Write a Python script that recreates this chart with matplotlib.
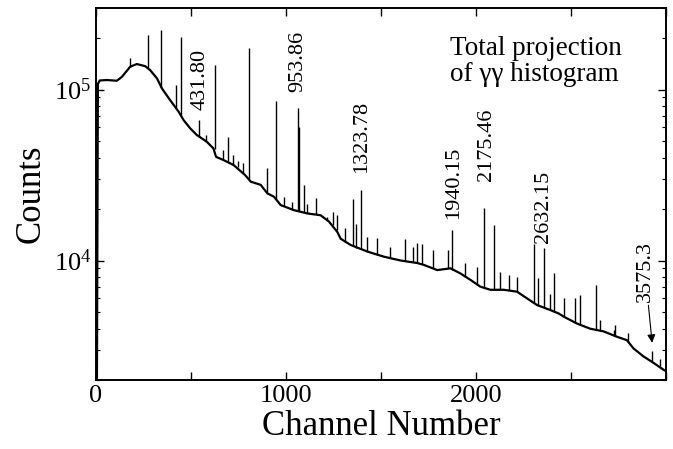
import numpy as np
import matplotlib
matplotlib.use('Agg')
import matplotlib.pyplot as plt
from matplotlib.ticker import MultipleLocator, FuncFormatter, LogLocator, NullFormatter

plt.rcParams['font.family'] = ['Liberation Serif', 'DejaVu Serif']
plt.rcParams['mathtext.fontset'] = 'stix'

# continuum of the projection (channel, counts)
bg_channel = [5, 10, 20, 58, 110, 137, 180, 215, 259, 285, 321, 347, 390, 435, 461, 496,
              531, 583, 618, 632, 671, 724, 785, 815, 867, 902, 937, 972, 1042, 1112, 1182,
              1226, 1270, 1288, 1340, 1428, 1515, 1603, 1690, 1725, 1796, 1866, 1918, 1971,
              2023, 2076, 2146, 2216, 2269, 2321, 2391, 2435, 2461, 2531, 2601, 2671, 2742,
              2794, 2829, 2881, 2934, 2986, 3000]
bg_counts = [1900, 1.08e5, 1.13e5, 1.137e5, 1.126e5, 1.188e5, 1.36e5, 1.41e5, 1.37e5, 1.30e5,
             1.163e5, 1.016e5, 8.68e4, 7.42e4, 6.63e4, 5.93e4, 5.42e4, 4.95e4, 4.53e4, 4.04e4,
             3.87e4, 3.62e4, 3.16e4, 2.89e4, 2.77e4, 2.47e4, 2.36e4, 2.11e4, 1.97e4, 1.885e4,
             1.84e4, 1.69e4, 1.47e4, 1.34e4, 1.233e4, 1.128e4, 1.053e4, 1.0e4, 9.67e3, 9.43e3,
             8.79e3, 9.0e3, 8.4e3, 7.7e3, 7.03e3, 6.74e3, 6.74e3, 6.57e3, 6.0e3, 5.49e3,
             5.13e3, 4.9e3, 4.7e3, 4.28e3, 3.99e3, 3.85e3, 3.58e3, 3.42e3, 3.06e3, 2.75e3,
             2.52e3, 2.30e3, 2.25e3]

# gamma lines: channel, counts at foot, counts at top
peak_channel = [180, 272, 341, 422, 450, 540, 580, 625, 667, 697, 723, 745, 776, 807, 899,
                950, 990, 1033, 1065, 1069, 1095, 1112, 1158, 1218, 1249, 1266, 1310, 1354,
                1371, 1393, 1424, 1478, 1550, 1624, 1671, 1690, 1714, 1774, 1851, 1876, 1944,
                2004, 2044, 2095, 2128, 2174, 2216, 2303, 2328, 2356, 2387, 2410, 2461, 2522,
                2549, 2631, 2654, 2724, 2733, 2802, 2925, 2969]
peak_base = [1.36e5, 1.33e5, 1.04e5, 7.8e4, 7.0e4, 5.35e4, 4.95e4, 4.5e4, 3.9e4, 3.75e4,
             3.62e4, 3.5e4, 3.2e4, 2.95e4, 2.5e4, 2.3e4, 2.08e4, 1.98e4, 1.96e4, 1.95e4,
             1.92e4, 1.885e4, 1.86e4, 1.72e4, 1.62e4, 1.5e4, 1.28e4, 1.22e4, 1.19e4, 1.16e4,
             1.13e4, 1.08e4, 1.04e4, 1.0e4, 9.75e3, 9.67e3, 9.5e3, 9.0e3, 9.0e3, 8.8e3, 8.0e3,
             7.2e3, 6.9e3, 6.74e3, 6.74e3, 6.7e3, 6.57e3, 5.65e3, 5.45e3, 5.3e3, 5.15e3,
             5.0e3, 4.7e3, 4.33e3, 4.2e3, 3.93e3, 3.88e3, 3.65e3, 3.6e3, 3.35e3, 2.56e3,
             2.4e3]
peak_top = [1.52e5, 2.09e5, 2.23e5, 1.06e5, 2.04e5, 6.63e4, 5.4e4, 1.39e5, 4.42e4, 5.27e4,
            4.14e4, 3.8e4, 3.7e4, 1.74e5, 3.47e4, 8.6e4, 2.36e4, 2.2e4, 7.76e4, 6.0e4,
            2.77e4, 2.15e4, 2.33e4, 1.8e4, 1.93e4, 1.84e4, 1.54e4, 2.3e4, 1.63e4, 2.58e4,
            1.38e4, 1.35e4, 1.2e4, 1.33e4, 1.2e4, 1.26e4, 1.25e4, 1.15e4, 1.15e4, 1.5e4,
            9.67e3, 9.2e3, 2.02e4, 1.61e4, 8.6e3, 8.25e3, 8.0e3, 1.25e4, 7.9e3, 1.18e4,
            6.4e3, 8.5e3, 6.0e3, 6.05e3, 6.25e3, 7.2e3, 4.49e3, 3.9e3, 4.2e3, 3.75e3,
            2.95e3, 2.65e3]

# energy labels (keV) and where they sit
label_text = ['431.80', '953.86', '1323.78', '1940.15', '2175.46', '2632.15']
label_channel = [547, 1062, 1398, 1881, 2055, 2354]
label_counts = [1.14e5, 1.47e5, 5.28e4, 2.84e4, 4.73e4, 2.05e4]


def main():
    fig, ax = plt.subplots(figsize=(6.73, 4.49), dpi=100)
    fig.subplots_adjust(left=0.1426, right=0.9896, bottom=0.1537, top=0.9822)

    ax.plot(bg_channel, bg_counts, color='black', lw=1.6)
    ax.vlines(peak_channel, peak_base, peak_top, color='black', lw=1.0)

    ax.set_yscale('log')
    ax.set_xlim(0, 3000)
    ax.set_ylim(2000, 3e5)

    for txt, xc, yc in zip(label_text, label_channel, label_counts):
        ax.text(xc, yc, txt, rotation=90, ha='center', va='center', fontsize=16)

    ax.annotate('3575.3', xy=(2927, 3.3e3), xytext=(2890, 8.57e3), rotation=90,
                ha='center', va='center', fontsize=16,
                arrowprops=dict(arrowstyle='-|>', color='black', lw=0.8,
                                mutation_scale=12, shrinkA=0, shrinkB=0))

    ax.text(0.621, 0.924, 'Total projection\nof γγ histogram', transform=ax.transAxes,
            ha='left', va='top', fontsize=19.5, linespacing=1.02)

    ax.xaxis.set_major_locator(MultipleLocator(500))
    ax.xaxis.set_major_formatter(
        FuncFormatter(lambda v, p: '%d' % v if v % 1000 == 0 and v < 3000 else ''))
    ax.yaxis.set_major_locator(LogLocator(base=10))
    ax.yaxis.set_minor_locator(LogLocator(base=10, subs=np.arange(2, 10)))
    ax.yaxis.set_minor_formatter(NullFormatter())
    ax.tick_params(which='both', direction='in', top=True, right=True, labelsize=19)
    ax.tick_params(which='major', length=6, width=1.0)
    ax.tick_params(which='minor', length=3, width=0.8)

    for s in ax.spines.values():
        s.set_linewidth(1.4)

    ax.set_xlabel('Channel Number', fontsize=25, labelpad=2)
    ax.set_ylabel('Counts', fontsize=25, labelpad=4)

    fig.savefig('out.png', dpi=100)


if __name__ == '__main__':
    main()
